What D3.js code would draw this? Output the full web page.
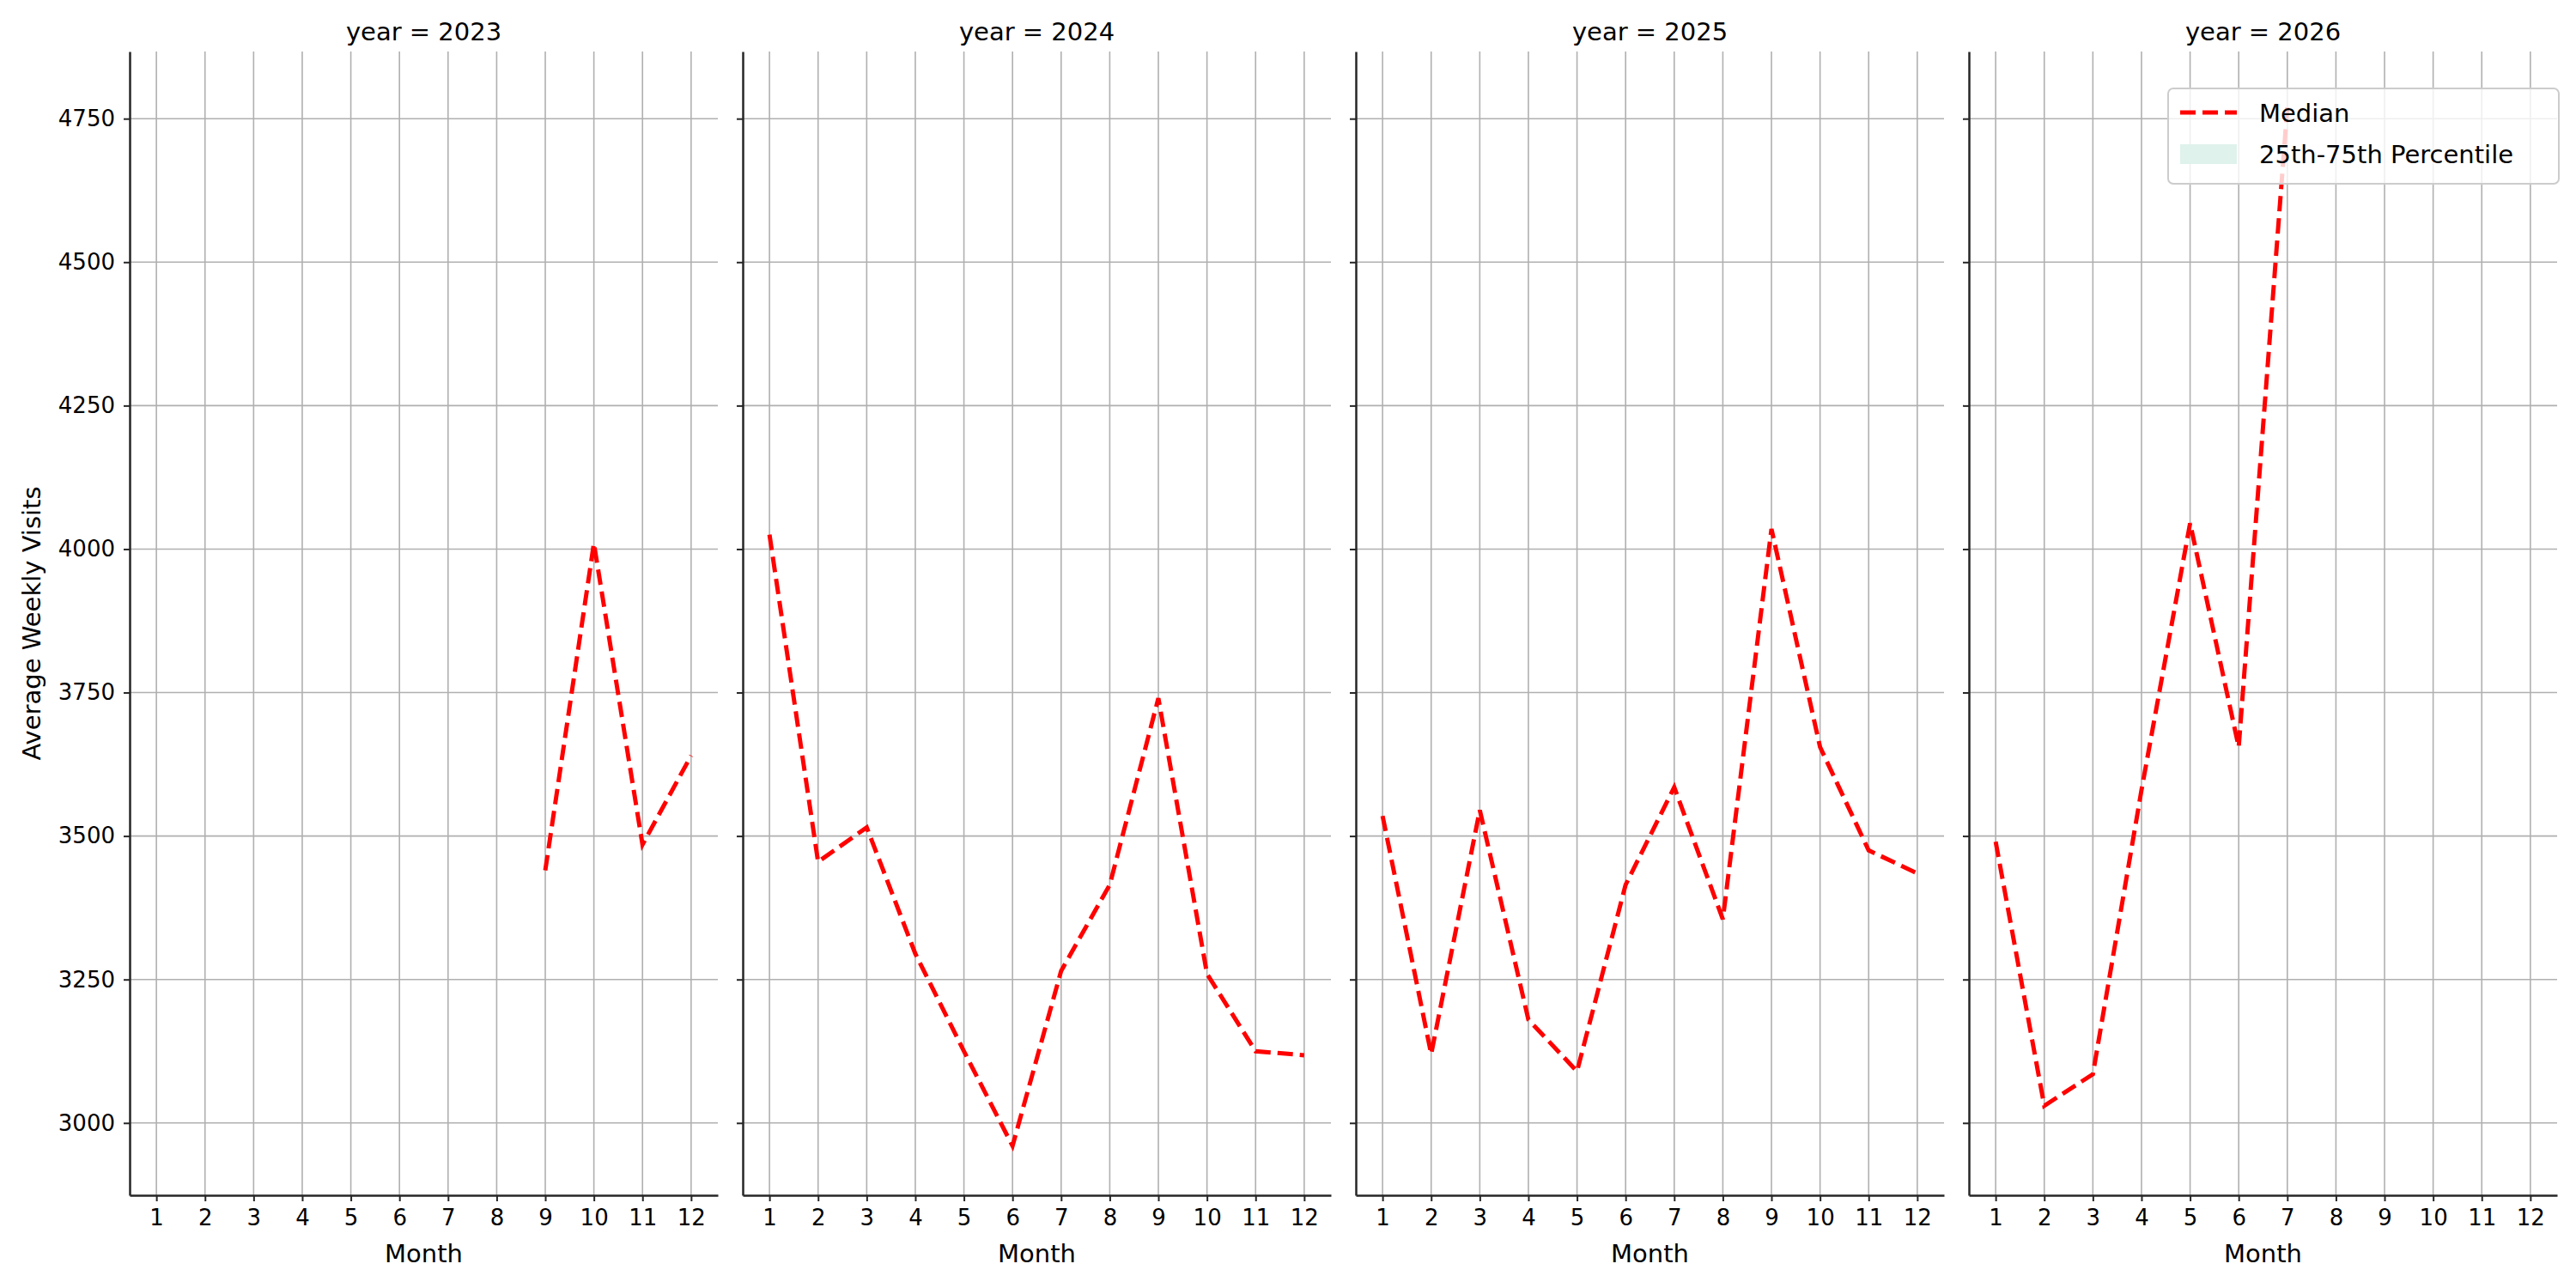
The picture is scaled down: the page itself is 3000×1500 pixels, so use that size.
<!DOCTYPE html>
<html><head><meta charset="utf-8">
<script src="https://cdn.jsdelivr.net/npm/d3@7"></script>
<style>body{margin:0;background:#fff}svg{font-family:"DejaVu Sans",sans-serif}</style>
</head><body><svg id="c" width="3000" height="1500"></svg>
<script>
const years = [2023, 2024, 2025, 2026];
const months = [1,2,3,4,5,6,7,8,9,10,11,12];
const yTicks = [3000, 3250, 3500, 3750, 4000, 4250, 4500, 4750];
const median2023 = [null,null,null,null,null,null,null,null,3440,4010,3485,3640];
const median2024 = [4025,3455,3515,3295,3125,2960,3265,3415,3740,3260,3125,3118];
const median2025 = [3535,3120,3545,3180,3090,3415,3585,3355,4035,3655,3475,3435];
const median2026 = [3490,3030,3085,3580,4045,3655,4770,null,null,null,null,null];
const series = [median2023, median2024, median2025, median2026];

const svg = d3.select("#c");
const plotTop = 60, plotBottom = 1392, pw = 685, gap = 29, left0 = 151;
const y = d3.scaleLinear().domain([2874, 4867]).range([plotBottom, plotTop]);

years.forEach((yr, i) => {
  const x0 = left0 + i * (pw + gap);
  const x = d3.scaleLinear().domain([0.45, 12.55]).range([x0, x0 + pw]);
  const g = svg.append("g");
  g.selectAll(".vg").data(months).join("line").attr("x1", d => x(d)).attr("x2", d => x(d))
    .attr("y1", plotTop).attr("y2", plotBottom).attr("stroke", "#b0b0b0").attr("stroke-width", 1.6);
  g.selectAll(".hg").data(yTicks).join("line").attr("x1", x0).attr("x2", x0 + pw)
    .attr("y1", d => y(d)).attr("y2", d => y(d)).attr("stroke", "#b0b0b0").attr("stroke-width", 1.6);
  const ax = g.append("g").attr("transform", `translate(0,${plotBottom})`)
    .call(d3.axisBottom(x).tickValues(months).tickSize(7).tickPadding(10).tickSizeOuter(0));
  const ay = g.append("g").attr("transform", `translate(${x0},0)`)
    .call(d3.axisLeft(y).tickValues(yTicks).tickSize(7).tickPadding(10).tickSizeOuter(0)
      .tickFormat(i === 0 ? d3.format("d") : () => ""));
  [ax, ay].forEach(a => {
    a.select(".domain").attr("stroke", "#262626").attr("stroke-width", 2.5);
    a.selectAll(".tick line").attr("stroke", "#262626").attr("stroke-width", 2);
    a.selectAll("text").attr("font-size", 26).attr("fill", "#000").attr("font-family", "DejaVu Sans");
  });
  g.append("text").attr("x", x0 + pw / 2).attr("y", 1470).attr("text-anchor", "middle")
    .attr("font-size", 29).text("Month");
  g.append("text").attr("x", x0 + pw / 2).attr("y", 47).attr("text-anchor", "middle")
    .attr("font-size", 29).text(`year = ${yr}`);
  const line = d3.line().defined(d => d != null).x((d, k) => x(months[k])).y(d => y(d));
  g.append("path").attr("d", line(series[i])).attr("fill", "none").attr("stroke", "#ff0000")
    .attr("stroke-width", 5).attr("stroke-dasharray", "18,8");
});

svg.append("text").attr("transform", "translate(47,726) rotate(-90)").attr("text-anchor", "middle")
  .attr("font-size", 29).text("Average Weekly Visits");

const lg = svg.append("g").attr("transform", "translate(2525,103)");
lg.append("rect").attr("width", 455).attr("height", 111).attr("rx", 6).attr("fill", "rgba(255,255,255,0.8)")
  .attr("stroke", "#cccccc").attr("stroke-width", 2);
lg.append("line").attr("x1", 14).attr("x2", 80).attr("y1", 28).attr("y2", 28).attr("stroke", "#ff0000")
  .attr("stroke-width", 5).attr("stroke-dasharray", "18,8");
lg.append("rect").attr("x", 14).attr("y", 65).attr("width", 66).attr("height", 23).attr("fill", "#dff2ec");
lg.append("text").attr("x", 106).attr("y", 39).attr("font-size", 29).text("Median");
lg.append("text").attr("x", 106).attr("y", 87).attr("font-size", 29).text("25th-75th Percentile");
</script></body></html>
